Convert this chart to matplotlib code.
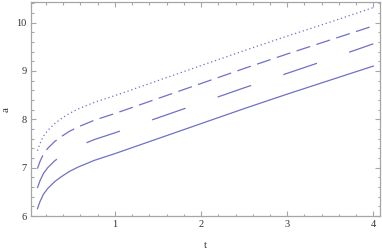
import matplotlib
matplotlib.use("Agg")
import matplotlib.pyplot as plt
from matplotlib.ticker import MultipleLocator

# values
t = [0.1, 0.13, 0.17, 0.22, 0.3, 0.375, 0.47, 0.57, 0.76, 1.0, 1.5, 2.0, 2.5, 3.0, 3.5, 4.0]
a_solid = [6.15, 6.30, 6.45, 6.57, 6.71, 6.81, 6.92, 7.01, 7.15, 7.29, 7.60, 7.91, 8.22, 8.52, 8.81, 9.10]
a_long = [6.58, 6.73, 6.88, 7.00, 7.14, 7.24, 7.35, 7.44, 7.58, 7.72, 8.03, 8.34, 8.65, 8.95, 9.25, 9.56]
a_medium = [6.98, 7.13, 7.28, 7.40, 7.54, 7.64, 7.75, 7.84, 7.98, 8.12, 8.43, 8.74, 9.05, 9.35, 9.64, 9.93]
a_dotted = [7.35, 7.50, 7.65, 7.77, 7.91, 8.01, 8.12, 8.21, 8.35, 8.49, 8.80, 9.11, 9.42, 9.72, 10.01, 10.31]

x_ticks = [1, 2, 3, 4]
y_ticks = [6, 7, 8, 9, 10]

plt.rcParams['font.family'] = ['Liberation Serif', 'DejaVu Serif']
plt.rcParams['lines.scale_dashes'] = False

line_color = '#7070c8'
frame_color = '#a6a6a6'
text_color = '#333333'

fig = plt.figure(figsize=(3.82, 2.5), dpi=100)
ax = fig.add_axes([0.0804, 0.136, 0.9144, 0.857])

# dash lengths given in points (1 pt = 1.39 px here)
ax.plot(t, a_solid, color=line_color, lw=0.9)
ax.plot(t, a_long, color=line_color, lw=0.9, dashes=(25.5, 24.5))
ax.plot(t, a_medium, color=line_color, lw=0.9, dashes=(10.3, 4.7))
ax.plot(t, a_dotted, color=line_color, lw=0.9, dashes=(0.9, 2.0))

ax.set_xlim(0.022, 4.078)
ax.set_ylim(6.0, 10.43)
ax.set_xticks(x_ticks)
ax.set_yticks(y_ticks)
ax.xaxis.set_minor_locator(MultipleLocator(0.2))
ax.yaxis.set_minor_locator(MultipleLocator(0.2))

ax.tick_params(which='both', direction='in', top=True, right=True,
               color=frame_color, labelsize=7.5, labelcolor=text_color, width=0.8)
ax.tick_params(which='major', length=3.6, pad=3)
ax.tick_params(which='minor', length=1.8)
for s in ax.spines.values():
    s.set_color(frame_color)
    s.set_linewidth(0.9)

# axis labels placed where the reference has them
fig.text(205.7 / 382, 1 - 245 / 250, 't', fontsize=8, color=text_color, ha='center', va='center')
fig.text(6 / 382, 1 - 110 / 250, 'a', fontsize=8, color=text_color, ha='center', va='center', rotation=90)

fig.savefig('out.png', dpi=100)
